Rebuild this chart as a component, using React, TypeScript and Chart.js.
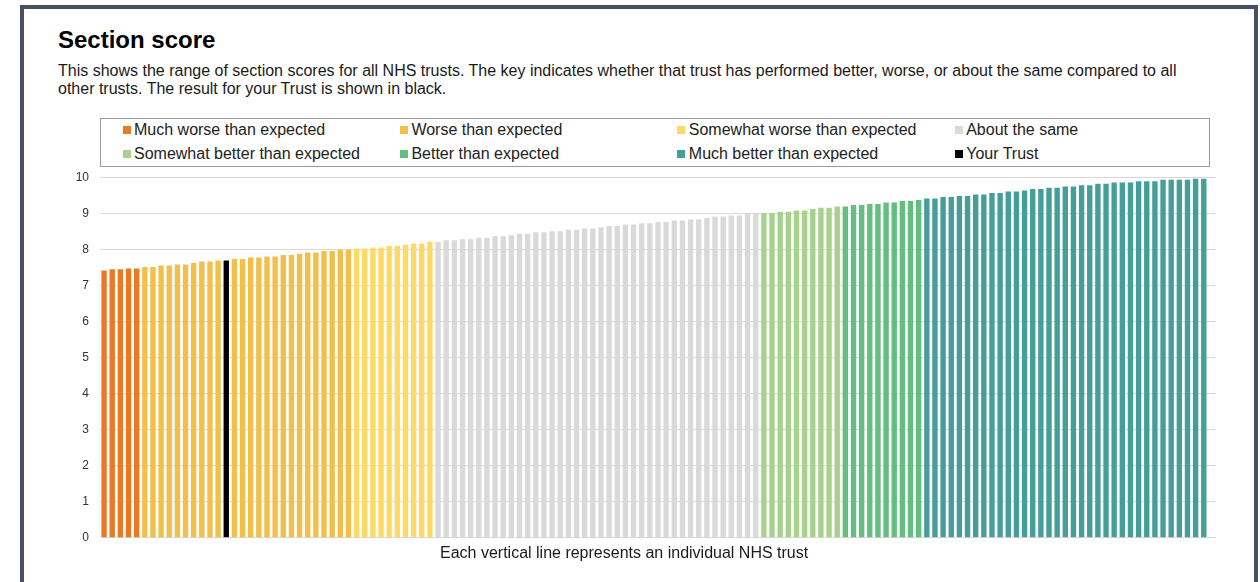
import React, { useEffect, useRef } from "react";
import { Chart, registerables } from "chart.js";

Chart.register(...registerables);

const bandNames = [
  "Much worse than expected",
  "Worse than expected",
  "Somewhat worse than expected",
  "About the same",
  "Somewhat better than expected",
  "Better than expected",
  "Much better than expected",
  "Your Trust",
];
const bandColors = ["#E97A25", "#F2BF4B", "#FFD966", "#D9D9D9", "#A9D18E", "#63BE7F", "#459E9A", "#000000"];
// number of trusts in each rating band, in order (excluding the "Your Trust" colour)
const bandSizes = [5, 26, 10, 40, 10, 10, 35];
const yourTrustIndex = 15;

const scores = [
  7.41, 7.45, 7.45, 7.47, 7.47, 7.51, 7.51, 7.55, 7.55, 7.58,
  7.58, 7.62, 7.66, 7.66, 7.69, 7.69, 7.73, 7.73, 7.77, 7.77,
  7.80, 7.80, 7.84, 7.84, 7.88, 7.91, 7.91, 7.95, 7.95, 7.99,
  7.99, 8.02, 8.02, 8.05, 8.05, 8.09, 8.09, 8.13, 8.16, 8.16,
  8.21, 8.21, 8.25, 8.25, 8.28, 8.28, 8.32, 8.32, 8.36, 8.36,
  8.39, 8.43, 8.43, 8.47, 8.47, 8.50, 8.50, 8.54, 8.54, 8.58,
  8.58, 8.61, 8.65, 8.65, 8.69, 8.69, 8.72, 8.72, 8.76, 8.76,
  8.80, 8.80, 8.83, 8.83, 8.87, 8.91, 8.91, 8.94, 8.94, 8.98,
  9.01, 9.01, 9.01, 9.04, 9.04, 9.08, 9.08, 9.12, 9.15, 9.15,
  9.19, 9.19, 9.23, 9.23, 9.26, 9.26, 9.30, 9.30, 9.34, 9.34,
  9.37, 9.41, 9.41, 9.45, 9.45, 9.48, 9.48, 9.52, 9.52, 9.56,
  9.56, 9.60, 9.60, 9.63, 9.67, 9.67, 9.71, 9.71, 9.74, 9.74,
  9.78, 9.78, 9.82, 9.82, 9.85, 9.85, 9.85, 9.89, 9.89, 9.89,
  9.93, 9.93, 9.93, 9.93, 9.96, 9.96,
];

const yTicks = [0, 1, 2, 3, 4, 5, 6, 7, 8, 9, 10];

const FONT = '"Liberation Sans", Arial, sans-serif';

function barColors(): string[] {
  const out: string[] = [];
  bandSizes.forEach((n, b) => {
    for (let i = 0; i < n; i++) out.push(bandColors[b]);
  });
  out[yourTrustIndex] = bandColors[7];
  return out;
}

export default function App() {
  const canvasRef = useRef<HTMLCanvasElement | null>(null);

  useEffect(() => {
    if (!canvasRef.current) return;
    const chart = new Chart(canvasRef.current, {
      type: "bar",
      data: {
        datasets: [
          {
            data: scores.map((v, i) => ({ x: i, y: v })),
            backgroundColor: barColors(),
            borderWidth: 0,
            categoryPercentage: 1,
            barPercentage: 0.66,
          },
        ],
      },
      options: {
        animation: false,
        responsive: false,
        maintainAspectRatio: false,
        layout: { padding: { top: 0, bottom: 0, right: 24, left: 0 } },
        plugins: { legend: { display: false }, tooltip: { enabled: false } },
        scales: {
          x: {
            type: "linear",
            min: -0.5,
            max: scores.length + 0.5,
            offset: false,
            display: false,
          },
          y: {
            min: 0,
            max: 10,
            afterFit: (s: any) => {
              s.width = 60;
            },
            afterBuildTicks: (s: any) => {
              s.ticks = yTicks.map((v) => ({ value: v }));
            },
            border: { display: false },
            grid: { color: "#D9D9D9", lineWidth: 1, drawTicks: false },
            ticks: {
              padding: 11,
              color: "#333333",
              font: { family: FONT, size: 12 },
            },
          },
        },
      },
    });
    return () => chart.destroy();
  }, []);

  const legendOrder = [0, 1, 2, 3, 4, 5, 6, 7];

  return (
    <div style={{ position: "absolute", left: 0, top: 0, width: 1260, height: 582, overflow: "hidden", background: "#fff", fontFamily: FONT }}>
      <div
        style={{
          position: "absolute",
          left: 20,
          top: 5,
          width: 1238,
          height: 640,
          boxSizing: "border-box",
          border: "4px solid #455163",
        }}
      />
      <div style={{ position: "absolute", left: 58, top: 26, fontSize: 24, lineHeight: "28px", fontWeight: "bold", color: "#000", whiteSpace: "nowrap" }}>
        Section score
      </div>
      <div style={{ position: "absolute", left: 58, top: 61.5, fontSize: 16, lineHeight: "18.4px", color: "#1a1a1a", whiteSpace: "nowrap" }}>
        This shows the range of section scores for all NHS trusts. The key indicates whether that trust has performed better, worse, or about the same compared to all
        <br />
        other trusts. The result for your Trust is shown in black.
      </div>
      <div
        style={{
          position: "absolute",
          left: 100,
          top: 118,
          width: 1110,
          height: 49,
          boxSizing: "border-box",
          border: "1.5px solid #9a9a9a",
        }}
      />
      {legendOrder.map((b, k) => {
        const col = k % 4;
        const row = Math.floor(k / 4);
        const sx = 122.5 + col * 277.4;
        const cy = 130 + row * 24;
        return (
          <React.Fragment key={b}>
            <div style={{ position: "absolute", left: sx, top: cy - 4, width: 8, height: 8, background: bandColors[b] }} />
            <div
              style={{
                position: "absolute",
                left: sx + 11.5,
                top: cy + 5.5 - 14.55,
                fontSize: 16,
                lineHeight: "18px",
                color: "#222",
                whiteSpace: "nowrap",
              }}
            >
              {bandNames[b]}
            </div>
          </React.Fragment>
        );
      })}
      <canvas ref={canvasRef} width={1200} height={397} style={{ position: "absolute", left: 40, top: 159, width: 1200, height: 397 }} />
      <div style={{ position: "absolute", left: 440, top: 544, fontSize: 16, lineHeight: "18px", color: "#1a1a1a", whiteSpace: "nowrap" }}>
        Each vertical line represents an individual NHS trust
      </div>
    </div>
  );
}
